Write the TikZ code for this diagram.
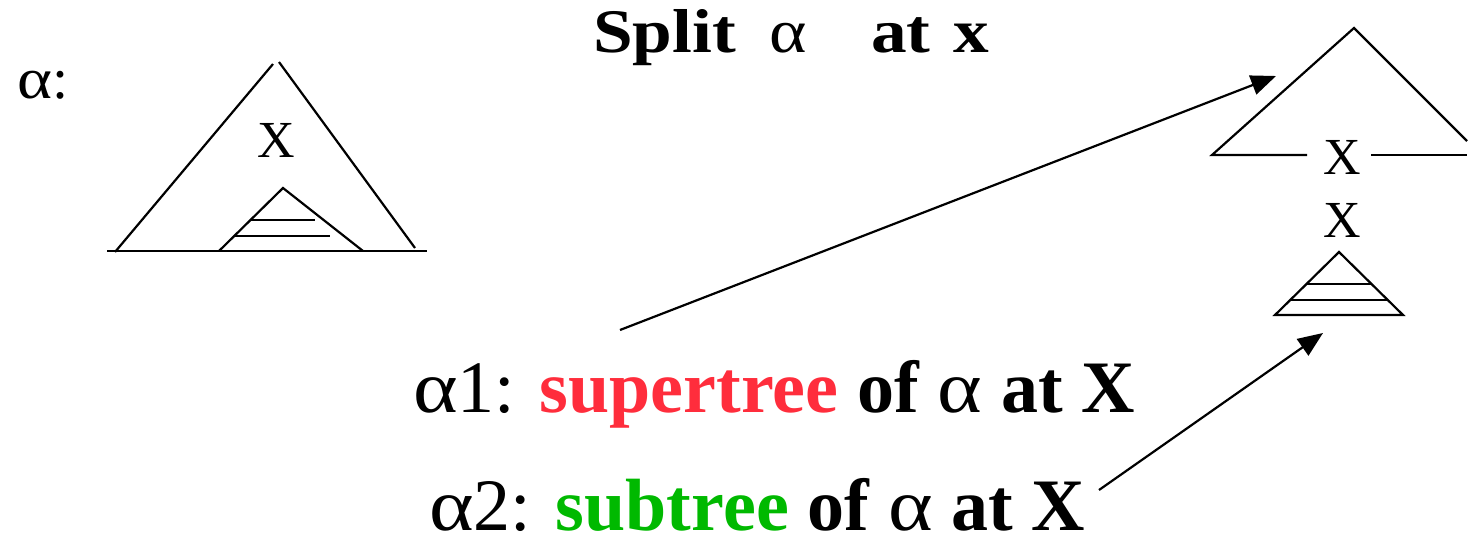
\documentclass[tikz,border=0pt]{standalone}
\usepackage{fontspec}
\setmainfont{Liberation Serif}
\newfontfamily\titlefont[FakeStretch=1.15]{Liberation Serif}
\newfontfamily\greekfont[FakeStretch=1.15]{Liberation Serif}
\newcommand{\alf}{{\greekfont α}}
\usetikzlibrary{arrows.meta}
\definecolor{superred}{RGB}{255,45,60}
\definecolor{subgreen}{RGB}{0,185,0}
\begin{document}
\begin{tikzpicture}[x=1pt,y=-1pt,line width=2.2pt,
  every node/.style={inner sep=0pt},
  lbl/.style={font=\fontsize{52}{56}\selectfont},
  ttl/.style={anchor=base west,font=\titlefont\fontsize{62}{66}\selectfont},
  big/.style={anchor=base west,text depth=0pt,font=\fontsize{74}{80}\selectfont},
  pointer/.style={-{Triangle[length=25pt,width=20pt]},line width=2.2pt}]
\useasboundingbox (0,0) rectangle (1468,547);
% title
\node[ttl] (tSplit) at (592,52) {\bfseries Split};
\node[ttl] (tAlpha) at (768,52) {\alf};
\node[ttl] (tAt) at (870,52) {\bfseries at};
\node[ttl] (tX) at (952,52) {\bfseries x};
\node[anchor=base west,font=\fontsize{58}{60}\selectfont] (alphaLbl) at (16,98) {\alf:};
% alpha
\draw (115,252) -- (273,64);
\draw (279,62) -- (415,248);
\draw (107,251) -- (427,251);
\node[lbl] (xA) at (276,140) {X};
\draw (219,251) -- (283,188) -- (363,251);
\draw (251,220) -- (315,220);
\draw (234,236) -- (330,236);
% supertree
\draw (1307,155) -- (1212,155) -- (1354,28) -- (1467,141);
\draw (1371,155) -- (1467,155);
\node[lbl] (xSup) at (1342,157) {X};
% subtree
\node[lbl] (xSub) at (1342,220) {X};
\draw (1275,315) -- (1339,252) -- (1403,315) -- cycle;
\draw (1307,284) -- (1371,284);
\draw (1291,300) -- (1387,300);
% captions
\node[big] (one) at (412,412) {\alf1: \textbf{\textcolor{superred}{supertree} of }\alf\textbf{ at X}};
\node[big] (two) at (428,530) {\alf2: \textbf{\textcolor{subgreen}{subtree} of }\alf\textbf{ at X}};
\coordinate (oneFrom) at (620,330);
\coordinate (oneTo) at (1276,76);
\coordinate (twoFrom) at (1099,490);
\coordinate (twoTo) at (1323,333);
\draw[pointer] (oneFrom) -- (oneTo);
\draw[pointer] (twoFrom) -- (twoTo);
\end{tikzpicture}
\end{document}
